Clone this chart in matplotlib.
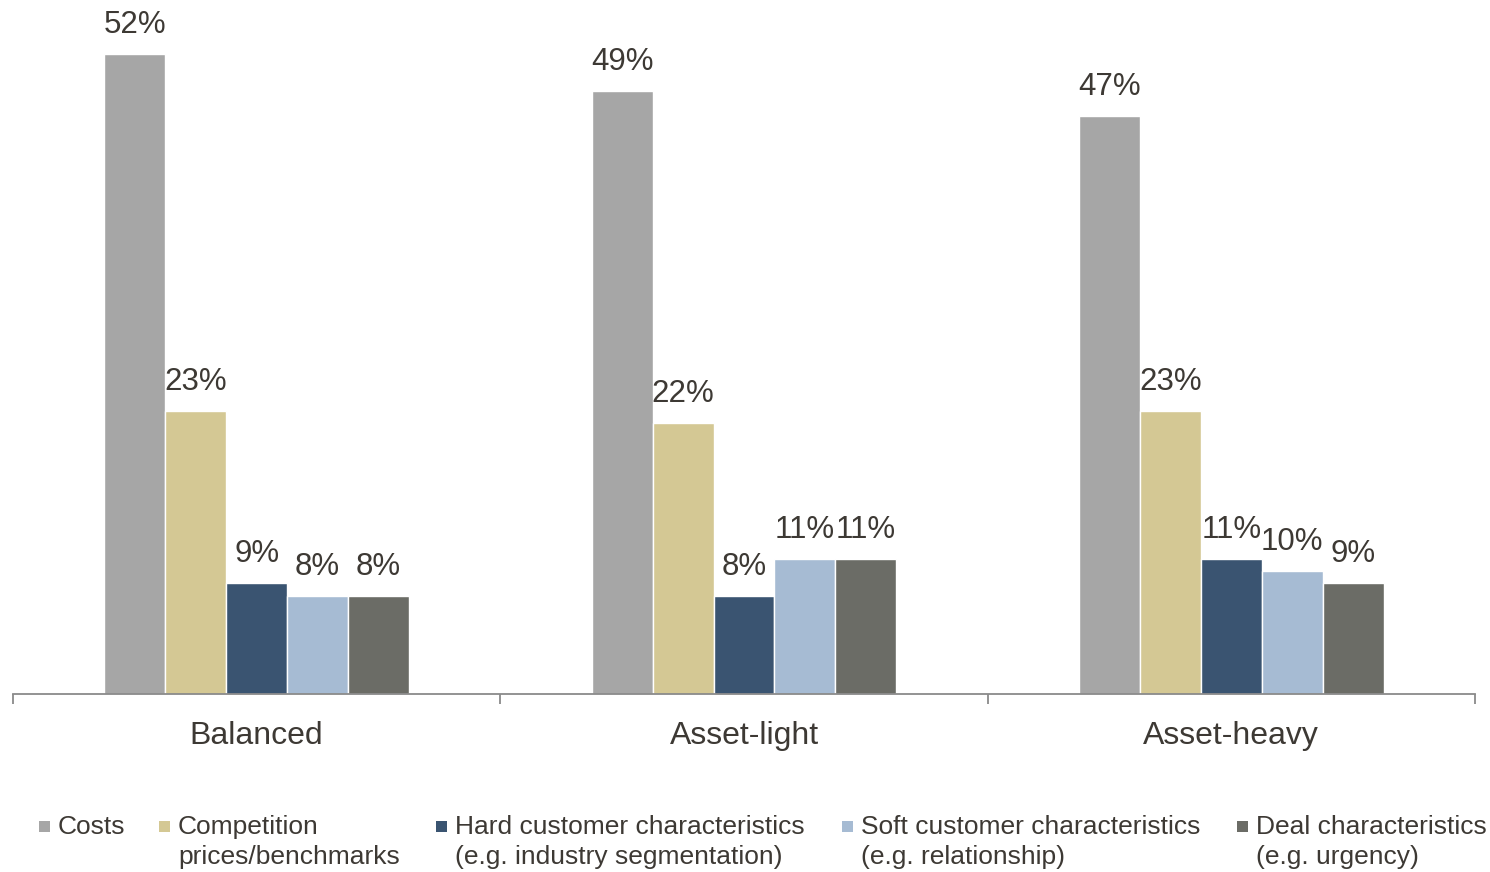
import matplotlib
matplotlib.use("Agg")
import matplotlib.pyplot as plt
from matplotlib.patches import Rectangle
import numpy as np

# Share of pricing driven by each factor, per business model (%)
categories = ["Balanced", "Asset-light", "Asset-heavy"]
series_names = [
    "Costs",
    "Competition\nprices/benchmarks",
    "Hard customer characteristics\n(e.g. industry segmentation)",
    "Soft customer characteristics\n(e.g. relationship)",
    "Deal characteristics\n(e.g. urgency)",
]
costs = [52, 49, 47]
competition = [23, 22, 23]
hard_customer = [9, 8, 11]
soft_customer = [8, 11, 10]
deal = [8, 11, 9]
series_values = [costs, competition, hard_customer, soft_customer, deal]

colors = ["#A6A6A6", "#D4C894", "#3A5471", "#A6BBD3", "#6B6C66"]
text_color = "#3D3934"
axis_color = "#8A8A8A"

plt.rcParams["font.family"] = ["Liberation Sans", "DejaVu Sans"]

W, H = 1490, 872
fig = plt.figure(figsize=(W / 100, H / 100), dpi=100)
ax = fig.add_axes([13 / W, (H - 694) / H, 1462 / W, 694 / H])

n_series = len(series_values)
bar_w = 0.125
x_centers = np.arange(len(categories)) + 0.5

for i, (vals, col) in enumerate(zip(series_values, colors)):
    xs = x_centers + (i - (n_series - 1) / 2) * bar_w
    ax.bar(xs, vals, width=bar_w, color=col, edgecolor="white",
           linewidth=1.0, zorder=2)
    for x, v in zip(xs, vals):
        ax.annotate(f"{v}%", xy=(x, v), xytext=(0, 15),
                    textcoords="offset points", ha="center", va="baseline",
                    fontsize=22.5, color=text_color)

ax.set_xlim(0, 3)
ax.set_ylim(0, 56.4)

for side in ["top", "left", "right"]:
    ax.spines[side].set_visible(False)
ax.spines["bottom"].set_color(axis_color)
ax.spines["bottom"].set_linewidth(1.3)
ax.spines["bottom"].set_zorder(3)
ax.set_yticks([])
ax.set_xticks([0, 1, 2, 3])
ax.set_xticklabels([])
ax.tick_params(axis="x", direction="out", length=7.5, width=1.3,
               color=axis_color)

for x, name in zip(x_centers, categories):
    ax.annotate(name, xy=(x, 0), xycoords=("data", "axes fraction"),
                xytext=(0, -30), textcoords="offset points",
                ha="center", va="center", fontsize=23, color=text_color)

# Legend along the bottom: colour square followed by one or two text lines
legend_text_x = [58, 178, 455, 861, 1256]
line_baselines = [834, 864]
sq = 11
for name, col, tx in zip(series_names, colors, legend_text_x):
    fig.add_artist(Rectangle(((tx - 19) / W, (H - 826 - sq / 2) / H),
                             sq / W, sq / H, transform=fig.transFigure,
                             facecolor=col, edgecolor="none"))
    for line, yb in zip(name.split("\n"), line_baselines):
        fig.text(tx / W, (H - yb) / H, line, ha="left", va="baseline",
                 fontsize=19, color=text_color)

fig.savefig("out.png", dpi=100, facecolor="white")
